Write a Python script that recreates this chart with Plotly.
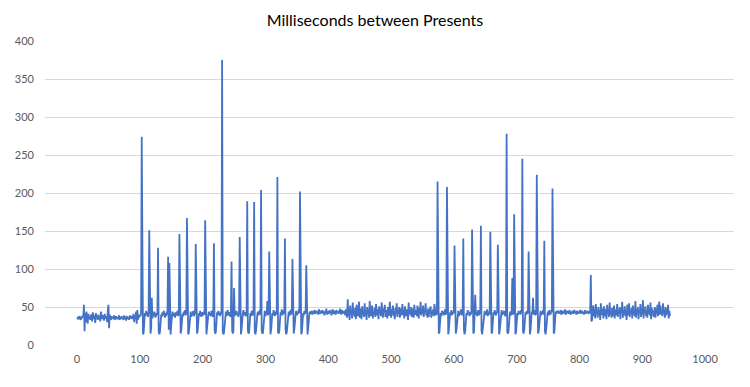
import plotly.graph_objects as go

# Values, in sample order (x = sample index)
noise_start = [36,35,37,34,38,36,33,37,35,39, 38,53,18,42,30,44,36,28,41,35,
               38,33,40,36,31,43,37,34,39,29, 42,36,38,33,40,35,37,31,44,36,
               34,39,37,32,41,36,35,38,30,45, 53,22,40,36,33,38,35,37,34,39,
               36,33,38,35,37,34,36,39,33,37, 35,38,34,36,33,39,35,37,32,38,
               36,34,37,33,39,35,36,38,34,37, 41,30,38,35,44,28,46,33,40,36]

hitch_block_1 = [40,38,42,
    274, 20,14,16,29,42,38,45,40,43,37,44,
    151, 19,15,22,62,35,41,38,44,40,36,42,39,43,
    128, 18,14,17,31,40,37,43,39,45,41,36,42,38,44,40,
    116, 20,108,16,14,27,40,44,38,42,40,36,43,39,41,45,38,42,
    146, 18,15,20,33,41,38,44,40,46,39,43,
    167, 21,14,16,30,39,44,37,42,40,45,38,41,43,
    133, 19,15,18,34,42,38,45,40,37,43,41,39,44,40,
    164, 17,14,22,36,40,44,39,42,38,45,41,37,43,
    134, 20,15,17,31,43,39,45,40,42,38,44,41,
    375, 18,14,16,29,40,44,38,42,46,39,43,40,37,44,
    110, 19,15,18,75,38,43,40,45,39,42,37,44,
    142, 18,14,21,35,41,46,39,43,40,38,44,
    189, 20,15,17,33,42,38,45,41,39,43,
    188, 17,14,19,36,40,44,39,42,46,40,
    204, 19,15,16,30,41,45,38,43,40,58,39,44,
    123, 18,14,20,34,42,39,46,41,38,44,40,43,
    221, 17,15,18,37,43,40,47,39,42,45,41,
    140, 20,14,17,32,41,44,38,42,46,40,43,
    113, 18,15,21,35,40,45,39,43,41,47,42,
    202, 19,14,17,36,42,39,45,41,44,
    105, 17,14,22,40]

noise_middle = [42,44,41,43,45,40,44,42,46,41, 43,45,42,44,40,47,43,41,45,42,
    44,46,41,43,39,45,42,48,40,44, 43,41,46,42,45,39,44,47,41,43,
    45,42,40,46,43,44,41,45,42,48, 40,43,46,41,44,42,45,39,47,43,
    36,60,38,47,33,52,41,45,35,56, 40,44,37,49,34,53,42,38,46,57,
    36,43,48,34,51,40,45,37,55,39, 44,33,50,42,47,36,58,41,38,46,
    52,35,44,40,49,37,54,43,39,47, 34,51,42,45,38,56,40,36,48,44,
    53,37,42,46,35,50,41,39,57,43, 36,47,40,52,38,44,34,49,42,55,
    37,45,41,50,36,43,48,39,54,40, 46,35,51,42,38,47,44,33,56,41,
    45,39,50,37,43,48,36,53,42,40, 46,38,52,44,35,49,41,57,39,45,
    41,52,37,46,43,55,39,44,36,48,
    37,48,43,51,36,44,40,47,38,54, 42,39]

hitch_block_2 = [44,40,
    215, 19,15,17,32,42,38,45,41,44,39,43,47,40,42,
    208, 18,14,20,35,43,40,46,39,44,41,45,
    131, 17,15,19,33,41,45,38,43,40,47,42,39,44,
    140, 20,14,18,31,42,39,46,41,44,38,43,40,45,
    152, 18,15,17,36,66,40,44,38,42,46,39,43,41,
    157, 19,14,21,34,41,45,39,43,40,47,38,44,42,40,
    149, 18,15,17,37,43,40,46,41,39,44,42,
    132, 20,14,19,33,42,46,39,43,41,45,40,38,44,
    278, 17,15,18,35,41,44,39,43,88,40,42,
    172, 19,14,17,34,42,39,45,41,44,40,46,42,
    245, 18,15,20,36,43,40,45,41,44,
    123, 17,14,19,38,44,41,62,40,43,46,39,42,
    224, 20,15,18,33,42,45,39,43,41,46,40,
    137, 18,14,21,35,41,44,39,46,42,40,45,43,
    206, 19,15,17,38,44,41,45]

noise_end = [43,45,41,44,42,46,40,43,45,41, 44,42,47,40,43,45,42,44,41,46,
    43,40,44,42,45,41,43,46,42,44, 40,45,43,41,44,42,46,43,41,45,
    42,44,40,43,46,41,44,42,45,43, 41,44,42,
    92,
    31,33,45,52,38,47,35,54,41,44, 36,50,39,46,33,55,42,40,48,35,
    51,43,38,47,34,53,41,45,37,56, 40,44,36,49,42,38,52,35,47,43,
    39,54,37,45,41,50,34,48,42,57, 36,44,40,51,38,46,33,53,43,39,
    55,37,46,42,49,35,52,40,44,38, 58,36,47,41,50,34,45,43,54,37,
    48,40,59,35,46,42,51,38,44,36, 53,41,47,39,56,34,49,43,45,37,
    44,50,36,47,41,53,38,45,57,40,
    52,40,46,38,55,42,44,36,50,39, 47,41,53,35,45,38]

y_ticks = [0, 50, 100, 150, 200, 250, 300, 350, 400]
x_ticks = [0, 100, 200, 300, 400, 500, 600, 700, 800, 900, 1000]
title_text = "Milliseconds between Presents"

values = noise_start + hitch_block_1 + noise_middle + hitch_block_2 + noise_end
samples = list(range(len(values)))

fig = go.Figure(go.Scatter(
    x=samples, y=values, mode="lines",
    line=dict(color="#4472C4", width=1.8),
    hoverinfo="x+y", showlegend=False,
))

fig.update_layout(
    width=750, height=387,
    paper_bgcolor="white", plot_bgcolor="white",
    margin=dict(l=45, r=16, t=41, b=42),
    title=dict(text=title_text, x=0.5, xanchor="center", y=0.948, yanchor="middle",
               font=dict(family="Lato", size=16, color="#000000")),
    font=dict(family="Lato", size=11, color="#595959"),
)
fig.update_xaxes(
    range=[-51, 1046], tickvals=x_ticks, ticktext=[str(v) for v in x_ticks],
    showgrid=False, zeroline=False, showline=False, ticks="",
    ticklabelstandoff=6,
    tickfont=dict(family="Lato", size=11, color="#595959"),
)
fig.update_yaxes(
    range=[0, 400], tickvals=y_ticks, ticktext=[str(v) for v in y_ticks],
    showgrid=True, gridcolor="#D9D9D9", gridwidth=1,
    zeroline=False, showline=False, ticks="",
    ticklabelstandoff=10,
    tickfont=dict(family="Lato", size=11, color="#595959"),
)

fig.write_html("out.html", config={"displayModeBar": False},
               post_script="document.body.style.margin='0';")
